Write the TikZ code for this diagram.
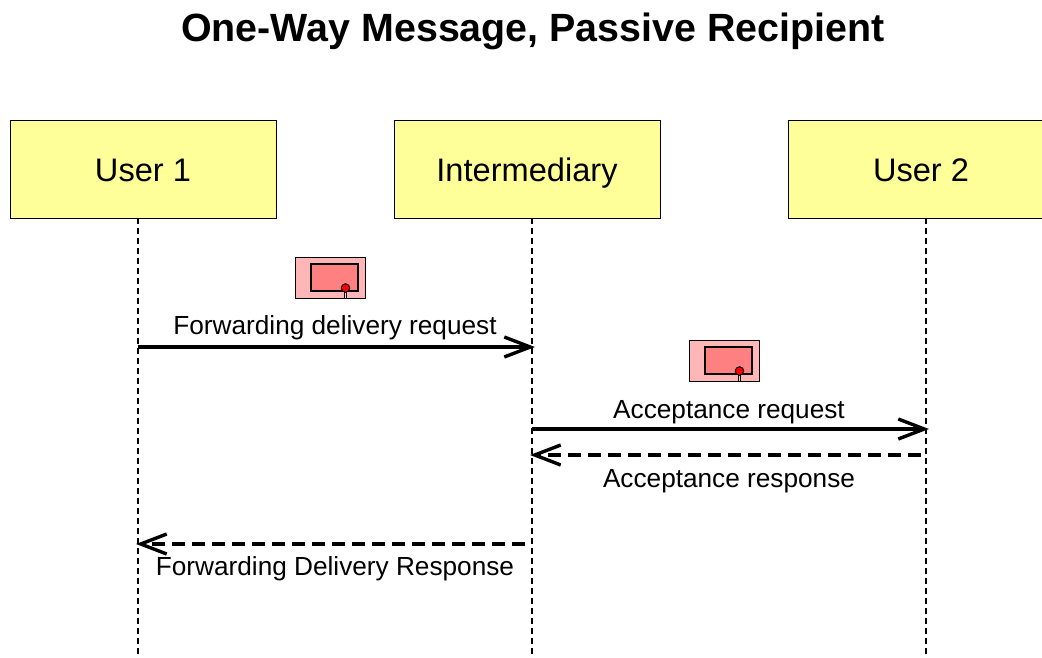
\documentclass[tikz,border=0pt]{standalone}
\usepackage{fontspec}
\setmainfont{Liberation Sans}
\usetikzlibrary{arrows.meta}
\definecolor{boxfill}{HTML}{FFFF99}
\definecolor{iconouter}{HTML}{FFB6B6}
\definecolor{iconinner}{HTML}{FF8080}
\tikzset{
  x=1pt,y=-1pt,
  actor/.style={draw=black,line width=1pt,fill=boxfill,minimum width=266pt,minimum height=98pt,inner sep=0pt,text height=25pt,text depth=1pt,font=\fontsize{32.6}{36}\selectfont},
  lifeline/.style={line width=1.4pt,dash pattern=on 6pt off 4pt},
  msg/.style={line width=3.6pt,-{Straight Barb[length=26pt,width=20pt,line width=3.4pt]}},
  rsp/.style={msg,dash pattern=on 13pt off 7pt},
  lbl/.style={font=\fontsize{26.2}{30}\selectfont,inner sep=0pt},
  iconbox/.style={draw=black,line width=1pt,fill=iconouter,minimum width=70pt,minimum height=41pt,inner sep=0pt},
  iconcore/.style={draw=black,line width=1.1pt,fill=iconinner,minimum width=47pt,minimum height=27pt,inner sep=0pt},
  pin/.style={circle,draw=black,line width=1pt,fill=red,minimum size=8.5pt,inner sep=0pt},
}
\begin{document}
\begin{tikzpicture}
\useasboundingbox (0,0) rectangle (1042,657);
\clip (0,0) rectangle (1042,657);
\node[font=\fontsize{39.4}{44}\selectfont\bfseries,inner sep=0pt] (title) at (533,31) {One-Way Message, Passive Recipient};
% lifeline ends
\coordinate (e1) at (138,657);
\coordinate (e2) at (532,657);
\coordinate (e3) at (926,657);
\node[actor] (u1) at (143,169) {User 1};
\node[actor] (im) at (527,169) {Intermediary};
\node[actor] (u2) at (921,169) {User 2};
\coordinate (s1) at (138,218);
\coordinate (s2) at (532,218);
\coordinate (s3) at (926,218);
\draw[lifeline] (s1) -- (e1);
\draw[lifeline] (s2) -- (e2);
\draw[lifeline] (s3) -- (e3);
% icons
\node[iconbox] (ia) at (330,277.5) {};
\node[iconcore] (ca) at (334.5,277.5) {};
\coordinate (sa) at (345,298);
\draw[line width=3pt] (sa) -- (345,288);
\draw[line width=1pt,white!80!red] (sa) -- (345,288);
\node[pin] (pa) at (345.5,288) {};
\node[iconbox] (ib) at (724,360.5) {};
\node[iconcore] (cb) at (728.5,360.5) {};
\coordinate (sb) at (739.5,381);
\draw[line width=3pt] (sb) -- (739.5,371);
\draw[line width=1pt,white!80!red] (sb) -- (739.5,371);
\node[pin] (pb) at (739.5,371) {};
% messages
\coordinate (a1) at (138,347); \coordinate (a2) at (535,347);
\coordinate (b1) at (532,429); \coordinate (b2) at (929,429);
\coordinate (c1) at (921,455); \coordinate (c2) at (530,455);
\coordinate (d1) at (525,544); \coordinate (d2) at (136,544);
\draw[msg] (a1) -- (a2);
\draw[msg] (b1) -- (b2);
\draw[rsp] (c1) -- (c2);
\draw[rsp] (d1) -- (d2);
\node[lbl] (la) at (335,328) {Forwarding delivery request};
\node[lbl] (lb) at (729,412) {Acceptance request};
\node[lbl] (lc) at (729,481) {Acceptance response};
\node[lbl] (ld) at (335,569) {Forwarding Delivery Response};
\end{tikzpicture}
\end{document}
